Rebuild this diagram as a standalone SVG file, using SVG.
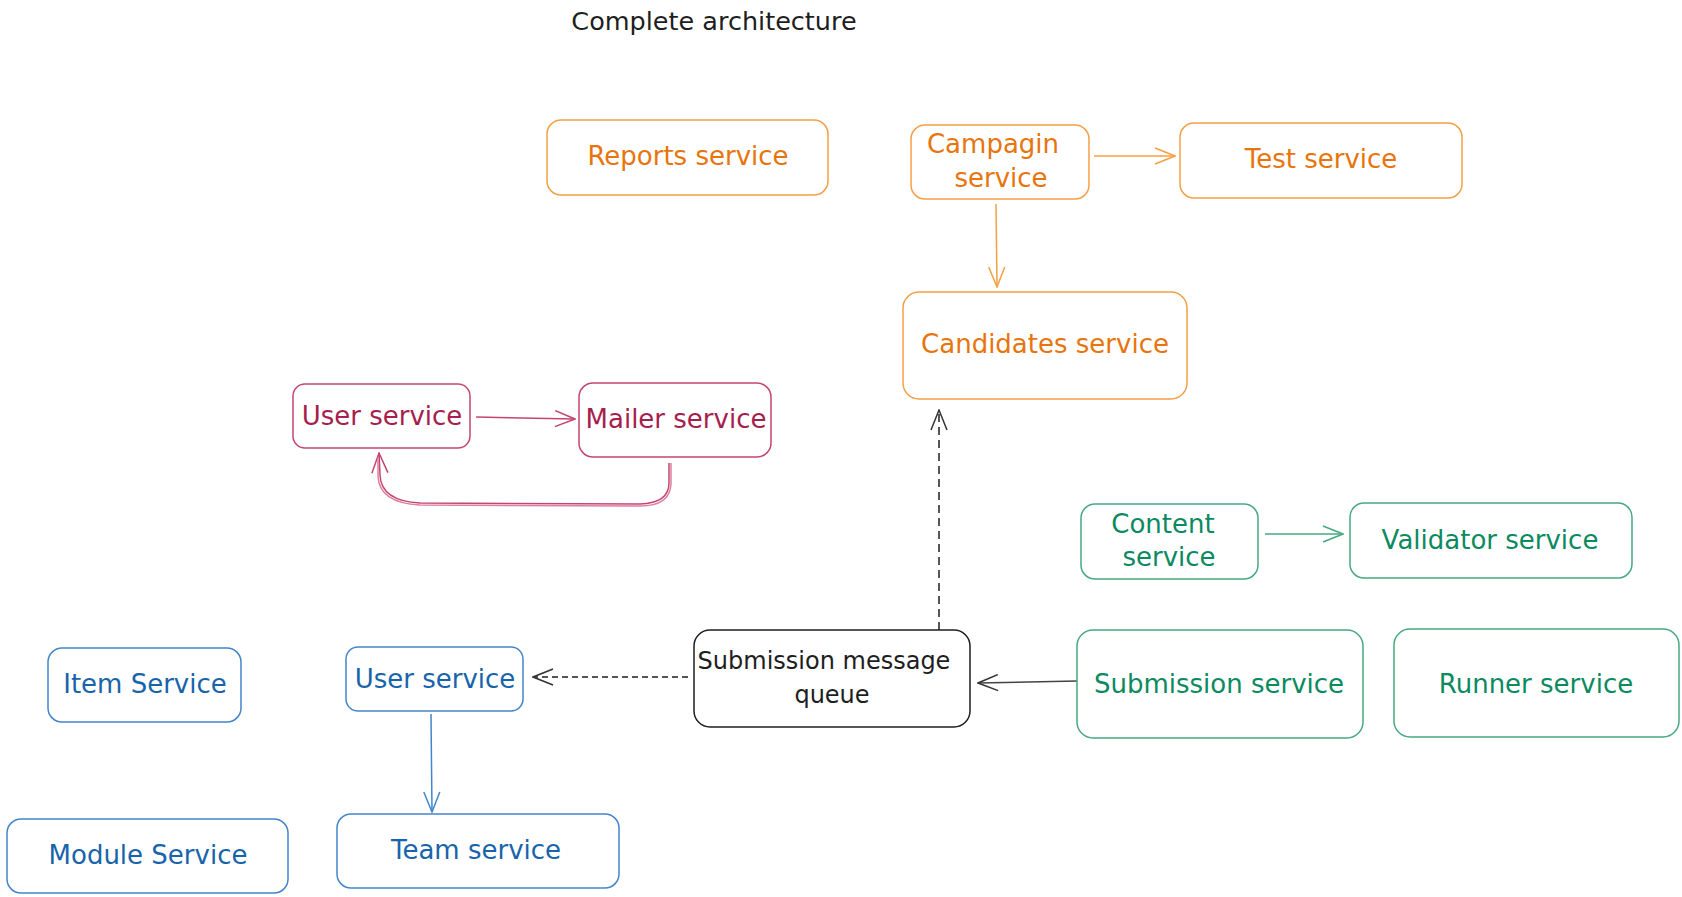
<svg xmlns="http://www.w3.org/2000/svg" width="1682" height="897" viewBox="0 0 1682 897">
<style>
  text { font-family: "DejaVu Sans", "Liberation Sans", sans-serif; font-size: 26px; text-anchor: middle; }
  .box { fill: none; stroke-width: 1.5; }
  .or .box { stroke: #f4a045; } .or text { fill: #e8740c; }
  .rd .box { stroke: #c54572; } .rd text { fill: #a61e4d; }
  .bl .box { stroke: #4385cb; } .bl text { fill: #1864ab; }
  .gr .box { stroke: #48a883; } .gr text { fill: #0b8a5f; }
  .bk .box { stroke: #1e1e1e; } .bk text { fill: #1e1e1e; }
  .c { fill: none; stroke-width: 1.5; }
  .title { fill: #1e1e1e; font-size: 25.5px; }
</style>
<defs>
  <marker id="a-or" viewBox="0 0 22 18" refX="21" refY="9" markerWidth="22" markerHeight="18" markerUnits="userSpaceOnUse" orient="auto"><path d="M1,1 L21,9 L1,17" fill="none" stroke="#f4a045" stroke-width="1.5"/></marker>
  <marker id="a-rd" viewBox="0 0 22 18" refX="21" refY="9" markerWidth="22" markerHeight="18" markerUnits="userSpaceOnUse" orient="auto"><path d="M1,1 L21,9 L1,17" fill="none" stroke="#c54572" stroke-width="1.5"/></marker>
  <marker id="a-bl" viewBox="0 0 22 18" refX="21" refY="9" markerWidth="22" markerHeight="18" markerUnits="userSpaceOnUse" orient="auto"><path d="M1,1 L21,9 L1,17" fill="none" stroke="#4385cb" stroke-width="1.5"/></marker>
  <marker id="a-gr" viewBox="0 0 22 18" refX="21" refY="9" markerWidth="22" markerHeight="18" markerUnits="userSpaceOnUse" orient="auto"><path d="M1,1 L21,9 L1,17" fill="none" stroke="#48a883" stroke-width="1.5"/></marker>
  <marker id="a-bk" viewBox="0 0 22 18" refX="21" refY="9" markerWidth="22" markerHeight="18" markerUnits="userSpaceOnUse" orient="auto"><path d="M1,1 L21,9 L1,17" fill="none" stroke="#333333" stroke-width="1.5"/></marker>
</defs>
<rect width="1682" height="897" fill="#ffffff"/>
<text class="title" x="714" y="30">Complete architecture</text>

<g id="connectors">
  <path class="c" d="M1094 156 L1175 156" stroke="#f4a045" marker-end="url(#a-or)"/>
  <path class="c" d="M996 204 L997 287" stroke="#f4a045" marker-end="url(#a-or)"/>
  <path class="c" d="M476 417 L575 419" stroke="#c54572" stroke-width="2" marker-end="url(#a-rd)"/>
  <path class="c" d="M669 463 L669 483 Q669 503 640 504 L420 503 Q381 501 380 475 L379 453" stroke="#c54572" marker-end="url(#a-rd)"/>
  <path class="c" d="M671 463 L671 484 Q670 506 640 506 L420 505 Q379 503 378 476 L378 458" stroke="#dc7fa0" stroke-width="1.2"/>
  <path class="c" d="M939 630 L939 410" stroke="#1e1e1e" stroke-dasharray="8 5" marker-end="url(#a-bk)"/>
  <path class="c" d="M688 677 L533 677" stroke="#1e1e1e" stroke-dasharray="6 4" marker-end="url(#a-bk)"/>
  <path class="c" d="M1077 681 L978 683" stroke="#444444" stroke-width="1.8" marker-end="url(#a-bk)"/>
  <path class="c" d="M431 714 L432 812" stroke="#4385cb" marker-end="url(#a-bl)"/>
  <path class="c" d="M1265 534 L1343 534" stroke="#48a883" stroke-width="2" marker-end="url(#a-gr)"/>
</g>

<g id="reports-service" class="or"><rect class="box" x="547" y="120" width="281" height="75" rx="14"/><text x="688" y="165">Reports service</text></g>
<g id="campagin-service" class="or"><rect class="box" x="911" y="125" width="178" height="74" rx="14"/><text x="993" y="153">Campagin</text><text x="1001" y="187">service</text></g>
<g id="test-service" class="or"><rect class="box" x="1180" y="123" width="282" height="75" rx="14"/><text x="1321" y="168">Test service</text></g>
<g id="candidates-service" class="or"><rect class="box" x="903" y="292" width="284" height="107" rx="16"/><text x="1045" y="353">Candidates service</text></g>

<g id="user-service-red" class="rd"><rect class="box" x="293" y="384" width="177" height="64" rx="12"/><text x="382" y="425">User service</text></g>
<g id="mailer-service" class="rd"><rect class="box" x="579" y="383" width="192" height="74" rx="14"/><text x="676" y="428">Mailer service</text></g>

<g id="item-service" class="bl"><rect class="box" x="48" y="648" width="193" height="74" rx="14"/><text x="145" y="693">Item Service</text></g>
<g id="user-service-blue" class="bl"><rect class="box" x="346" y="647" width="177" height="64" rx="12"/><text x="435" y="688">User service</text></g>
<g id="module-service" class="bl"><rect class="box" x="7" y="819" width="281" height="74" rx="14"/><text x="148" y="864">Module Service</text></g>
<g id="team-service" class="bl"><rect class="box" x="337" y="814" width="282" height="74" rx="14"/><text x="476" y="859">Team service</text></g>

<g id="submission-message-queue" class="bk"><rect class="box" x="694" y="630" width="276" height="97" rx="16"/><text x="824" y="669" style="font-size:24px">Submission message</text><text x="832" y="703" style="font-size:24px">queue</text></g>

<g id="content-service" class="gr"><rect class="box" x="1081" y="504" width="177" height="75" rx="14"/><text x="1163" y="533">Content</text><text x="1169" y="566">service</text></g>
<g id="validator-service" class="gr"><rect class="box" x="1350" y="503" width="282" height="75" rx="14"/><text x="1490" y="549">Validator service</text></g>
<g id="submission-service" class="gr"><rect class="box" x="1077" y="630" width="286" height="108" rx="16"/><text x="1219" y="693">Submission service</text></g>
<g id="runner-service" class="gr"><rect class="box" x="1394" y="629" width="285" height="108" rx="16"/><text x="1536" y="693">Runner service</text></g>
</svg>
